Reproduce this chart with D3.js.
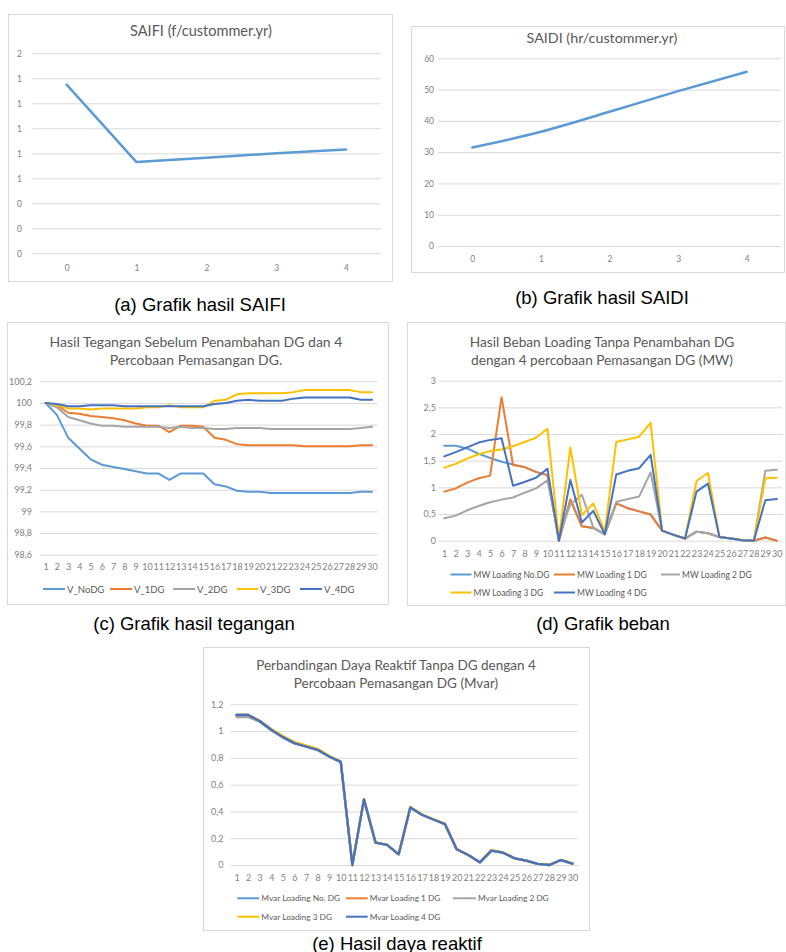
<!DOCTYPE html>
<html>
<head>
<meta charset="utf-8">
<script src="https://cdn.jsdelivr.net/npm/d3@7"></script>
<style>
  body { margin: 0; background: #fff; }
  svg { display: block; }
</style>
</head>
<body>
<script>
// ---------- data ----------
// Reliability indices per scenario (0 = without DG, 1..4 = DG placement trials)
const scenarios = [0, 1, 2, 3, 4];
const saifi = [1.35, 0.73, 0.765, 0.80, 0.83];
const saidi = [31.5, 36.5, 42.9, 49.5, 55.7];
const saifiTicks = [0, 0.2, 0.4, 0.6, 0.8, 1.0, 1.2, 1.4, 1.6];
const saidiTicks = [0, 10, 20, 30, 40, 50, 60];

// Bus numbers 1..30
const buses = ["1","2","3","4","5","6","7","8","9","10","11","12","13","14","15",
               "16","17","18","19","20","21","22","23","24","25","26","27","28","29","30"];

// Bus voltage (%)
const vNoDG = [100, 99.89, 99.68, 99.58, 99.48, 99.43, 99.41, 99.39, 99.37, 99.35, 99.35, 99.29, 99.35, 99.35, 99.35,
               99.25, 99.23, 99.19, 99.18, 99.18, 99.17, 99.17, 99.17, 99.17, 99.17, 99.17, 99.17, 99.17, 99.18, 99.18];
const v1DG  = [100, 99.98, 99.91, 99.90, 99.88, 99.87, 99.86, 99.84, 99.81, 99.79, 99.79, 99.73, 99.79, 99.79, 99.78,
               99.68, 99.66, 99.62, 99.61, 99.61, 99.61, 99.61, 99.61, 99.60, 99.60, 99.60, 99.60, 99.60, 99.61, 99.61];
const v2DG  = [100, 99.96, 99.87, 99.84, 99.81, 99.79, 99.79, 99.78, 99.78, 99.78, 99.78, 99.77, 99.78, 99.77, 99.77,
               99.76, 99.76, 99.77, 99.77, 99.77, 99.76, 99.76, 99.76, 99.76, 99.76, 99.76, 99.76, 99.76, 99.77, 99.78];
const v3DG  = [100, 99.98, 99.95, 99.95, 99.94, 99.95, 99.95, 99.95, 99.95, 99.96, 99.96, 99.98, 99.96, 99.96, 99.96,
               100.02, 100.03, 100.08, 100.09, 100.09, 100.09, 100.09, 100.10, 100.12, 100.12, 100.12, 100.12, 100.12, 100.10, 100.10];
const v4DG  = [100, 99.99, 99.97, 99.97, 99.98, 99.98, 99.98, 99.97, 99.97, 99.97, 99.97, 99.97, 99.97, 99.97, 99.97,
               99.99, 100.00, 100.02, 100.03, 100.02, 100.02, 100.02, 100.04, 100.05, 100.05, 100.05, 100.05, 100.05, 100.03, 100.03];
const voltTicks = [98.6, 98.8, 99.0, 99.2, 99.4, 99.6, 99.8, 100.0, 100.2];

// Active power loading (MW)
const mwNoDG = [1.78, 1.78, 1.73, 1.63, 1.55, 1.48, 1.43, 1.38, 1.29, 1.23, 0.00, 0.77, 0.27, 0.24, 0.12,
                0.70, 0.61, 0.55, 0.49, 0.19, 0.11, 0.04, 0.17, 0.14, 0.07, 0.04, 0.01, 0.00, 0.06, 0.00];
const mw1DG  = [0.92, 0.98, 1.09, 1.17, 1.22, 2.69, 1.42, 1.38, 1.29, 1.23, 0.00, 0.77, 0.27, 0.24, 0.12,
                0.70, 0.61, 0.55, 0.49, 0.19, 0.11, 0.04, 0.17, 0.14, 0.07, 0.04, 0.01, 0.00, 0.06, 0.00];
const mw2DG  = [0.42, 0.47, 0.57, 0.65, 0.72, 0.77, 0.81, 0.90, 0.98, 1.13, 0.08, 0.68, 0.86, 0.25, 0.12,
                0.73, 0.78, 0.83, 1.28, 0.19, 0.11, 0.04, 0.17, 0.14, 0.07, 0.04, 0.01, 0.00, 1.31, 1.33];
const mw3DG  = [1.37, 1.44, 1.54, 1.62, 1.68, 1.71, 1.77, 1.85, 1.93, 2.10, 0.03, 1.75, 0.48, 0.70, 0.17,
                1.85, 1.90, 1.95, 2.21, 0.19, 0.11, 0.04, 1.12, 1.27, 0.07, 0.04, 0.01, 0.00, 1.17, 1.18];
const mw4DG  = [1.58, 1.66, 1.75, 1.84, 1.89, 1.92, 1.03, 1.10, 1.18, 1.35, 0.00, 1.14, 0.34, 0.56, 0.12,
                1.24, 1.31, 1.36, 1.61, 0.19, 0.11, 0.04, 0.92, 1.07, 0.07, 0.04, 0.01, 0.00, 0.76, 0.78];
const mwTicks = [0, 0.5, 1, 1.5, 2, 2.5, 3];

// Reactive power loading (Mvar)
const mvarNoDG = [1.12, 1.12, 1.075, 1.01, 0.955, 0.91, 0.885, 0.86, 0.81, 0.77, 0.00, 0.49, 0.167, 0.15, 0.08,
                  0.43, 0.375, 0.34, 0.305, 0.117, 0.075, 0.02, 0.107, 0.092, 0.05, 0.032, 0.008, 0.00, 0.037, 0.01];
const mvar1DG  = [1.12, 1.12, 1.075, 1.01, 0.955, 0.91, 0.885, 0.86, 0.81, 0.77, 0.00, 0.49, 0.167, 0.15, 0.08,
                  0.43, 0.375, 0.34, 0.305, 0.117, 0.075, 0.02, 0.107, 0.092, 0.05, 0.032, 0.008, 0.00, 0.037, 0.01];
const mvar2DG  = [1.105, 1.105, 1.07, 1.005, 0.952, 0.908, 0.883, 0.858, 0.808, 0.768, 0.00, 0.49, 0.167, 0.15, 0.08,
                  0.43, 0.375, 0.34, 0.305, 0.117, 0.075, 0.02, 0.107, 0.092, 0.05, 0.032, 0.008, 0.00, 0.037, 0.01];
const mvar3DG  = [1.12, 1.12, 1.078, 1.016, 0.963, 0.918, 0.893, 0.868, 0.816, 0.772, 0.00, 0.49, 0.167, 0.15, 0.08,
                  0.435, 0.378, 0.342, 0.307, 0.117, 0.075, 0.02, 0.112, 0.094, 0.05, 0.032, 0.008, 0.00, 0.037, 0.01];
const mvar4DG  = [1.12, 1.12, 1.075, 1.01, 0.955, 0.91, 0.885, 0.86, 0.81, 0.77, 0.00, 0.49, 0.167, 0.15, 0.08,
                  0.43, 0.375, 0.34, 0.305, 0.117, 0.075, 0.02, 0.107, 0.092, 0.05, 0.032, 0.008, 0.00, 0.037, 0.01];
const mvarTicks = [0, 0.2, 0.4, 0.6, 0.8, 1.0, 1.2];

// ---------- styling ----------
const palette = ["#5B9BD5", "#ED7D31", "#A5A5A5", "#FFC000", "#4472C4"];
const chartFont = "Lato, 'Open Sans', sans-serif";
const captionFont = "'Liberation Sans', Arial, sans-serif";
const comma = d3.formatLocale({ decimal: ",", thousands: ".", grouping: [3], currency: ["", ""] });
const fmtComma = comma.format(".1~f");

const svg = d3.select("body").append("svg")
  .attr("width", 786).attr("height", 952)
  .attr("viewBox", "0 0 786 952");

function drawChart(c) {
  const g = svg.append("g");
  // outer frame
  g.append("rect")
    .attr("x", c.box[0] + 0.5).attr("y", c.box[1] + 0.5)
    .attr("width", c.box[2]).attr("height", c.box[3])
    .attr("fill", "#fff").attr("stroke", "#d9d9d9").attr("stroke-width", 1);

  // title lines
  c.title.forEach((t, i) => {
    g.append("text")
      .attr("x", c.titleX).attr("y", c.titleY + i * c.titleStep)
      .attr("text-anchor", "middle").attr("dominant-baseline", "central")
      .attr("font-family", chartFont).attr("font-size", c.titleSize)
      .attr("fill", "#595959").text(t);
  });

  const x = d3.scalePoint().domain(c.cats).range([c.px0, c.px1]).padding(0.5);
  const y = d3.scaleLinear().domain(c.yDomain).range([c.pyBottom, c.pyTop]);

  // horizontal gridlines via the y axis
  const gridAxis = d3.axisLeft(y).tickValues(c.yTicks).tickSize(-(c.px1 - c.px0)).tickFormat("");
  const grid = g.append("g").attr("transform", `translate(${c.px0},0)`).call(gridAxis);
  grid.select(".domain").remove();
  grid.selectAll(".tick line").attr("stroke", "#d9d9d9").attr("stroke-width", 1);

  // y tick labels
  const yAxis = d3.axisLeft(y).tickValues(c.yTicks).tickSize(0).tickPadding(0).tickFormat(c.yFormat);
  const ya = g.append("g").attr("transform", `translate(${c.yLabelX},0)`).call(yAxis);
  ya.select(".domain").remove();
  ya.selectAll("text").attr("font-family", chartFont).attr("font-size", c.tickSize).attr("fill", "#7f7f7f");

  // x tick labels
  const xAxis = d3.axisBottom(x).tickSize(0).tickPadding(0);
  const xa = g.append("g").attr("transform", `translate(0,${c.xLabelY})`).call(xAxis);
  xa.select(".domain").remove();
  xa.selectAll("text").attr("font-family", chartFont).attr("font-size", c.tickSize)
    .attr("fill", "#7f7f7f").attr("dy", "0.35em").attr("y", 0);

  // series
  const line = d3.line()
    .x((d, i) => x(c.cats[i]))
    .y(d => y(d))
    .curve(c.curve || d3.curveLinear);
  c.series.forEach((s, i) => {
    g.append("path").datum(s.values)
      .attr("d", line).attr("fill", "none")
      .attr("stroke", s.color).attr("stroke-width", c.lineWidth)
      .attr("stroke-linejoin", "round").attr("stroke-linecap", "round");
  });

  // legend
  if (c.legend) {
    c.series.forEach((s, i) => {
      const p = c.legend[i];
      g.append("line")
        .attr("x1", p[0]).attr("x2", p[1]).attr("y1", p[2]).attr("y2", p[2])
        .attr("stroke", s.color).attr("stroke-width", 2);
      g.append("text")
        .attr("x", p[1] + 2).attr("y", p[2])
        .attr("dominant-baseline", "central")
        .attr("font-family", chartFont).attr("font-size", c.legendSize)
        .attr("fill", "#595959").text(s.name);
    });
  }

  // caption below the frame
  svg.append("text")
    .attr("x", c.caption[1]).attr("y", c.caption[2])
    .attr("text-anchor", "middle").attr("dominant-baseline", "central")
    .attr("font-family", captionFont).attr("font-size", 18.5)
    .attr("fill", "#000").text(c.caption[0]);
}

// (a) SAIFI
drawChart({
  box: [8, 14, 384, 267],
  title: ["SAIFI (f/custommer.yr)"], titleX: 201, titleY: 30, titleStep: 0, titleSize: 14.5,
  cats: scenarios, px0: 31.7, px1: 381,
  yDomain: [0, 1.6], pyBottom: 253.3, pyTop: 53.3, yTicks: saifiTicks,
  yFormat: d3.format(".0f"), yLabelX: 22, xLabelY: 268.3, tickSize: 8.5,
  series: [{ name: "SAIFI", values: saifi, color: palette[0] }],
  lineWidth: 2.5,
  caption: ["(a) Grafik hasil SAIFI", 200, 304]
});

// (b) SAIDI
drawChart({
  box: [411, 26, 373, 246],
  title: ["SAIDI (hr/custommer.yr)"], titleX: 602, titleY: 37, titleStep: 0, titleSize: 14.3,
  cats: scenarios, px0: 438, px1: 781,
  yDomain: [0, 60], pyBottom: 246, pyTop: 58.3, yTicks: saidiTicks,
  yFormat: d3.format("d"), yLabelX: 434, xLabelY: 259.3, tickSize: 8.5,
  series: [{ name: "SAIDI", values: saidi, color: palette[0] }],
  lineWidth: 2.5, curve: d3.curveMonotoneX,
  caption: ["(b) Grafik hasil SAIDI", 602, 297]
});

// (c) bus voltages
drawChart({
  box: [7, 322, 381, 282],
  title: ["Hasil Tegangan Sebelum Penambahan DG dan 4", "Percobaan Pemasangan DG."],
  titleX: 196, titleY: 341, titleStep: 18.7, titleSize: 14,
  cats: buses, px0: 40, px1: 377.7,
  yDomain: [98.6, 100.2], pyBottom: 554.7, pyTop: 381.3, yTicks: voltTicks,
  yFormat: fmtComma, yLabelX: 32, xLabelY: 567.3, tickSize: 9,
  series: [
    { name: "V_NoDG", values: vNoDG, color: palette[0] },
    { name: "V_1DG",  values: v1DG,  color: palette[1] },
    { name: "V_2DG",  values: v2DG,  color: palette[2] },
    { name: "V_3DG",  values: v3DG,  color: palette[3] },
    { name: "V_4DG",  values: v4DG,  color: palette[4] }
  ],
  lineWidth: 2,
  legend: [[43, 65, 589], [110, 132, 589], [173, 195, 589], [237, 258, 589], [300, 322, 589]],
  legendSize: 9.5,
  caption: ["(c) Grafik hasil tegangan", 194, 623]
});

// (d) MW loading
drawChart({
  box: [407, 322, 378, 283],
  title: ["Hasil Beban Loading Tanpa Penambahan DG", "dengan 4 percobaan Pemasangan DG (MW)"],
  titleX: 602, titleY: 341.3, titleStep: 18.4, titleSize: 13.7,
  cats: buses, px0: 438.5, px1: 782.5,
  yDomain: [0, 3], pyBottom: 540.7, pyTop: 380.7, yTicks: mwTicks,
  yFormat: fmtComma, yLabelX: 436, xLabelY: 554, tickSize: 9,
  series: [
    { name: "MW Loading No.DG", values: mwNoDG, color: palette[0] },
    { name: "MW Loading 1 DG",  values: mw1DG,  color: palette[1] },
    { name: "MW Loading 2 DG",  values: mw2DG,  color: palette[2] },
    { name: "MW Loading 3 DG",  values: mw3DG,  color: palette[3] },
    { name: "MW Loading 4 DG",  values: mw4DG,  color: palette[4] }
  ],
  lineWidth: 2,
  legend: [[450.5, 471.5, 574.5], [554, 575, 574.5], [661, 680, 574.5], [450.5, 471.5, 592.5], [554, 575, 592.5]],
  legendSize: 8.5,
  caption: ["(d) Grafik beban", 603, 623]
});

// (e) Mvar loading
drawChart({
  box: [203, 647, 386, 283],
  title: ["Perbandingan Daya Reaktif Tanpa DG dengan 4", "Percobaan Pemasangan DG (Mvar)"],
  titleX: 396, titleY: 665, titleStep: 17.7, titleSize: 13.5,
  cats: buses, px0: 230.7, px1: 578.3,
  yDomain: [0, 1.2], pyBottom: 865, pyTop: 704.3, yTicks: mvarTicks,
  yFormat: fmtComma, yLabelX: 223.5, xLabelY: 878.3, tickSize: 9,
  series: [
    { name: "Mvar Loading No. DG", values: mvarNoDG, color: palette[0] },
    { name: "Mvar Loading 1 DG",   values: mvar1DG,  color: palette[1] },
    { name: "Mvar Loading 2 DG",   values: mvar2DG,  color: palette[2] },
    { name: "Mvar Loading 3 DG",   values: mvar3DG,  color: palette[3] },
    { name: "Mvar Loading 4 DG",   values: mvar4DG,  color: palette[4] }
  ],
  lineWidth: 2.3,
  legend: [[237.3, 259.3, 898.3], [346, 367.7, 898.3], [453, 476, 898.3], [237.3, 259.3, 916.7], [346, 367.7, 916.7]],
  legendSize: 8.3,
  caption: ["(e) Hasil daya reaktif", 397, 943]
});
</script>
</body>
</html>
